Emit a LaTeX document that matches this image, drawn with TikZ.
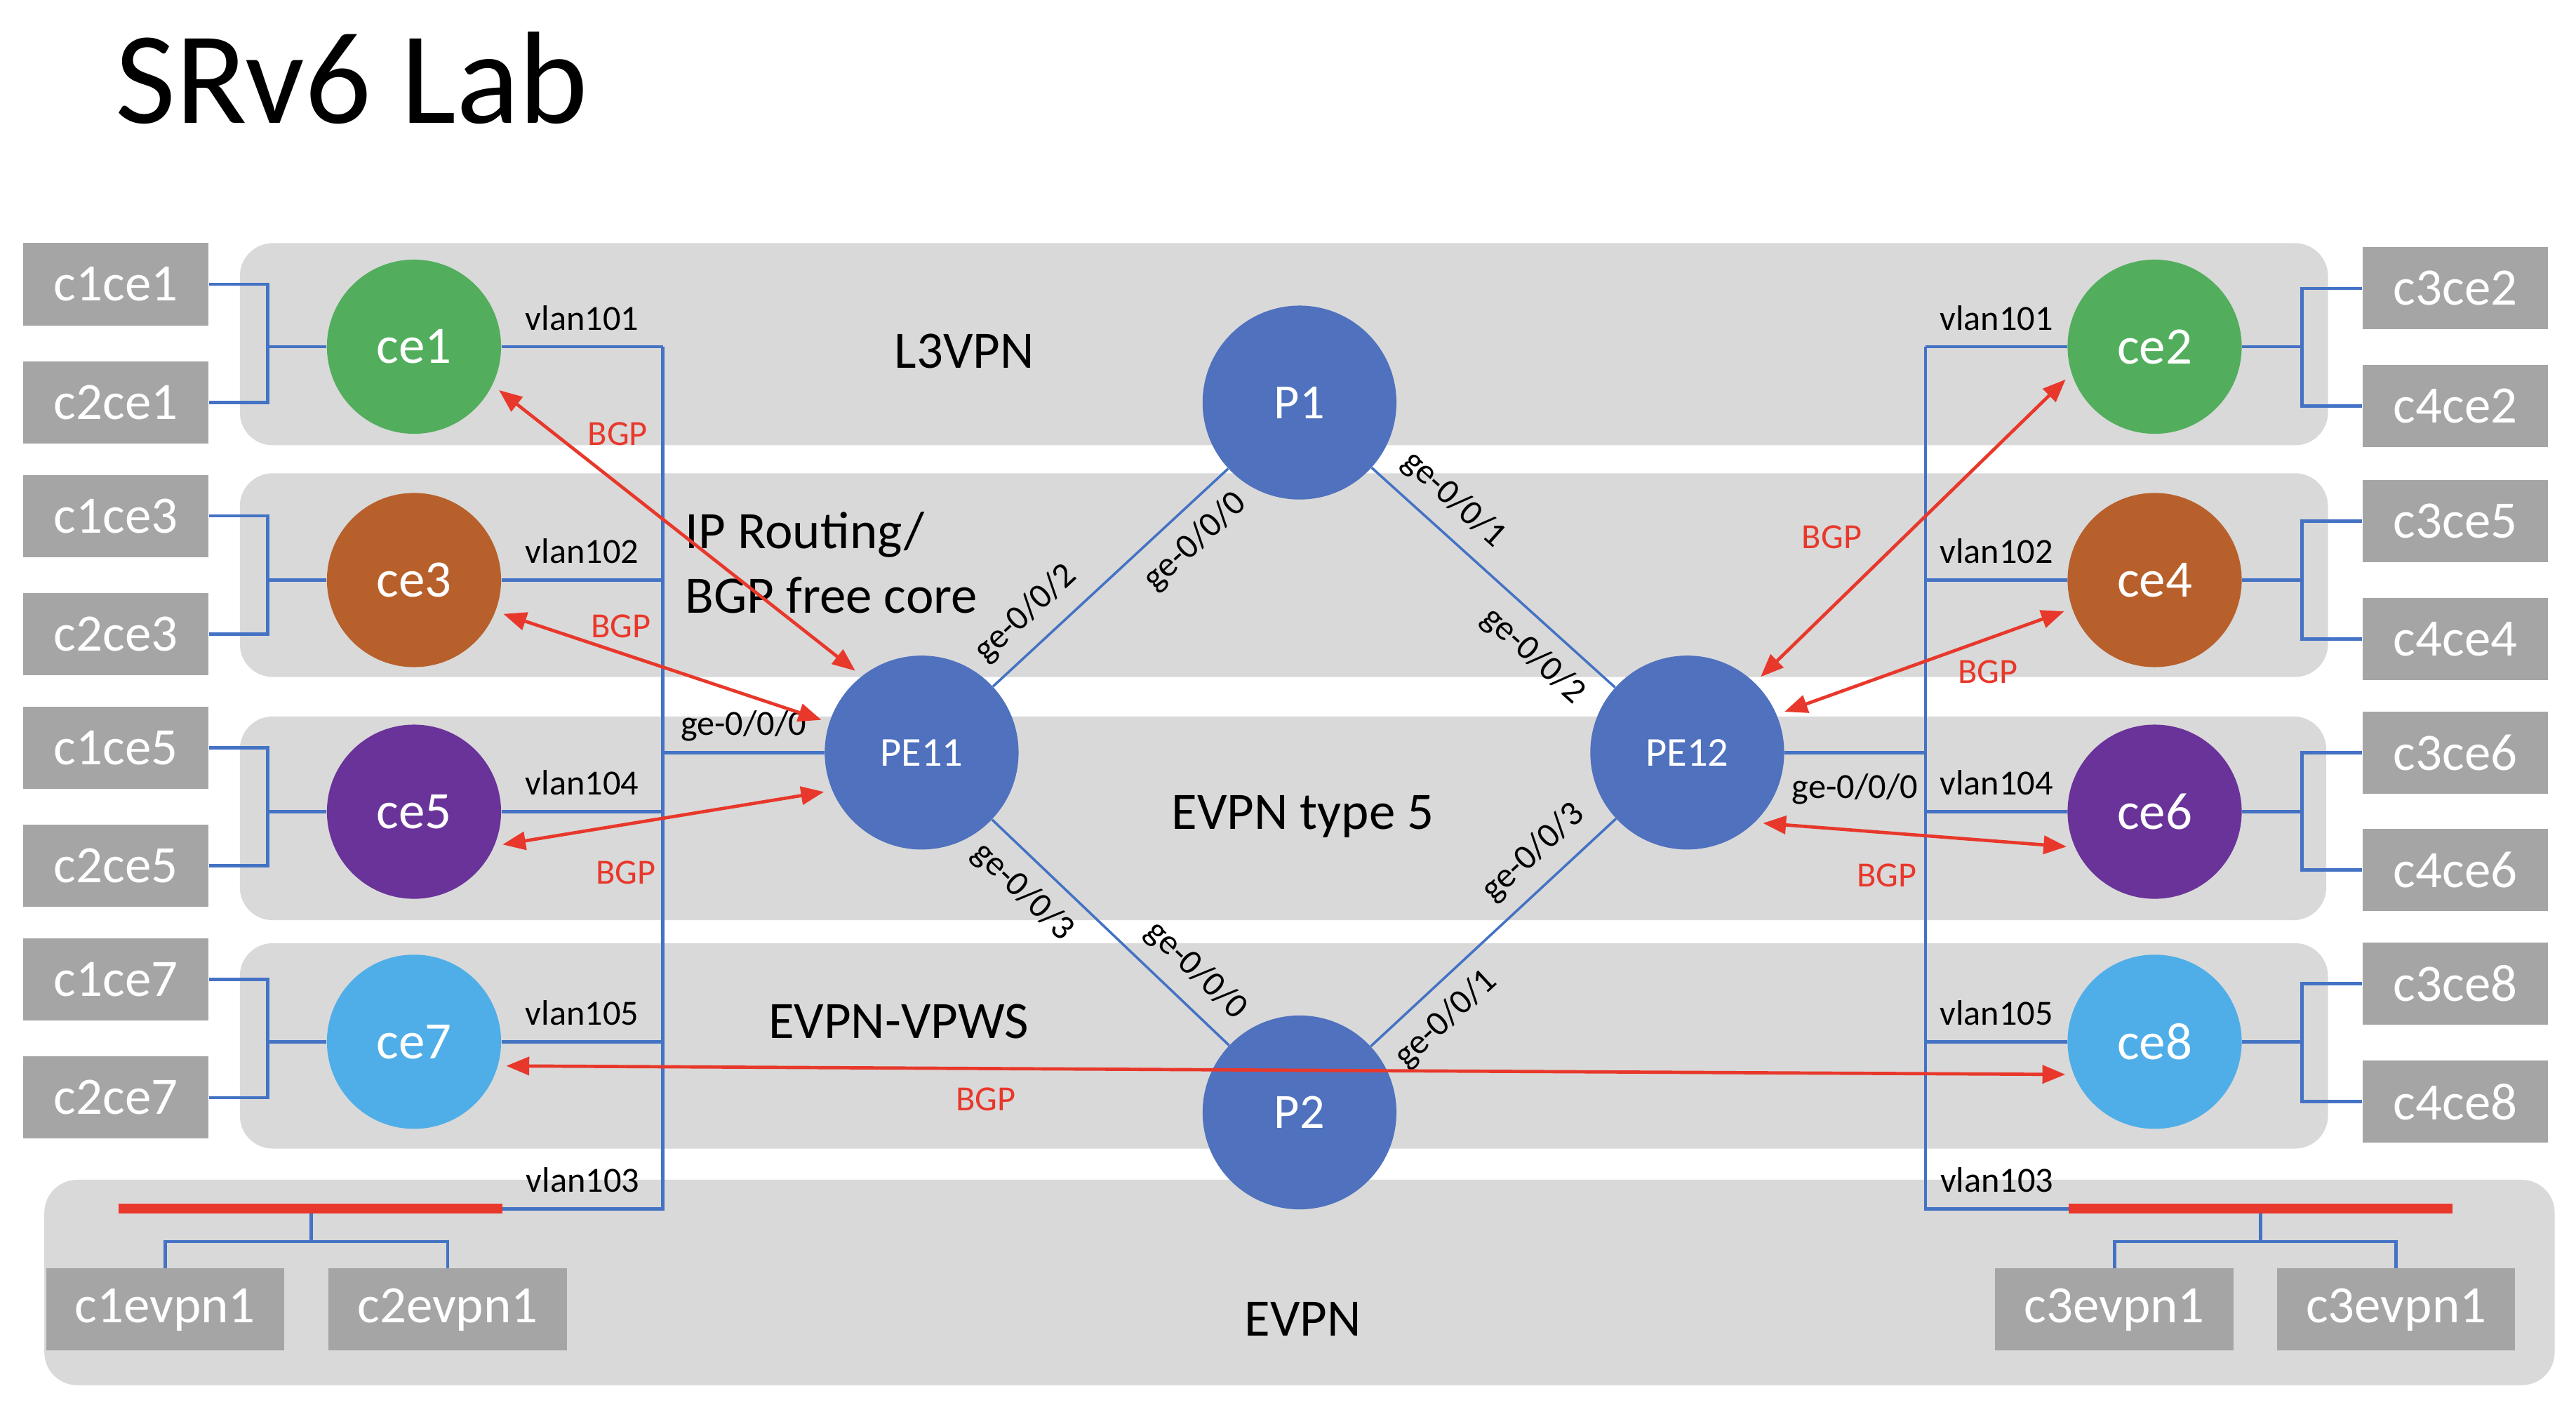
\documentclass[tikz,border=0pt]{standalone}
\usepackage{fontspec}
\setmainfont{Carlito}
\usetikzlibrary{arrows.meta,calc}

\definecolor{bandgray}{HTML}{D9D9D9}
\definecolor{boxgray}{HTML}{A5A5A5}
\definecolor{linkblue}{HTML}{4472C4}
\definecolor{coreblue}{HTML}{4F71BE}
\definecolor{cegreen}{HTML}{52AE5D}
\definecolor{ceorange}{HTML}{B8602B}
\definecolor{cepurple}{HTML}{6A3399}
\definecolor{celight}{HTML}{4FAEE8}
\definecolor{bgpred}{HTML}{E8382B}

\tikzset{
  band/.style={fill=bandgray, rounded corners=20pt},
  client/.style={fill=boxgray, text=white, minimum width=113pt, minimum height=50pt, inner sep=0pt, font=\fontsize{32pt}{38pt}\selectfont},
  evpnclient/.style={client, minimum width=145pt},
  cenode/.style={circle, fill=#1, text=white, minimum size=106pt, inner sep=0pt, font=\fontsize{32pt}{38pt}\selectfont},
  router/.style={circle, fill=coreblue, text=white, minimum size=118pt, inner sep=0pt, font=\fontsize{30pt}{36pt}\selectfont},
  pefont/.style={font=\fontsize{25pt}{30pt}\selectfont},
  link/.style={draw=linkblue, line width=2pt},
  corelink/.style={draw=linkblue, line width=1.5pt},
  bus/.style={draw=bgpred, line width=6pt},
  bgp/.style={draw=bgpred, line width=2pt, {Triangle[length=14pt,width=11pt]}-{Triangle[length=14pt,width=11pt]}, shorten >=5pt, shorten <=5pt},
  small/.style={font=\fontsize{21.5pt}{26pt}\selectfont, inner sep=2pt},
  bgplabel/.style={small, text=bgpred},
  bandlabel/.style={font=\fontsize{32pt}{39pt}\selectfont, inner sep=0pt},
}

\begin{document}
\begin{tikzpicture}[x=1pt, y=-1pt]
\useasboundingbox (0,0) rectangle (1568,858);

% Title
\node[anchor=base west, inner sep=0pt, font=\fontsize{80pt}{96pt}\selectfont] (title) at (70,75) {SRv6 Lab};

% Grey bands, one for each service
\fill[band] (146,148) rectangle (1417,271);
\fill[band] (146,288) rectangle (1417,412);
\fill[band] (146,436) rectangle (1416,560);
\fill[band] (146,574) rectangle (1417,699);
\fill[band] (27,718) rectangle (1555,843);

% Names of the bands
\node[bandlabel, anchor=base] (l3vpn) at (587,224) {L3VPN};
\node[bandlabel, anchor=base west, align=left] (ipcore) at (417,373) {IP Routing/\\BGP free core};
\node[bandlabel, anchor=base] (evpn5) at (793,504.5) {EVPN type 5};
\node[bandlabel, anchor=base] (vpws) at (547,632) {EVPN-VPWS};
\node[bandlabel, anchor=base] (evpn) at (793,813) {EVPN};

% Core routers
\node[router] (P1) at (791,245) {P1};
\node[router, pefont] (PE11) at (561,458) {PE11};
\node[router, pefont] (PE12) at (1027,458) {PE12};
\node[router] (P2) at (791,677) {P2};

% CE routers
\node[cenode=cegreen] (ce1) at (252,211) {ce1};
\node[cenode=ceorange] (ce3) at (252,353) {ce3};
\node[cenode=cepurple] (ce5) at (252,494) {ce5};
\node[cenode=celight] (ce7) at (252,634) {ce7};
\node[cenode=cegreen] (ce2) at (1311.5,211) {ce2};
\node[cenode=ceorange] (ce4) at (1311.5,353) {ce4};
\node[cenode=cepurple] (ce6) at (1311.5,494) {ce6};
\node[cenode=celight] (ce8) at (1311.5,634) {ce8};

% Clients on the left
\node[client] (c1ce1) at (70.5,173) {c1ce1};
\node[client] (c2ce1) at (70.5,245) {c2ce1};
\node[client] (c1ce3) at (70.5,314) {c1ce3};
\node[client] (c2ce3) at (70.5,386) {c2ce3};
\node[client] (c1ce5) at (70.5,455) {c1ce5};
\node[client] (c2ce5) at (70.5,527) {c2ce5};
\node[client] (c1ce7) at (70.5,596) {c1ce7};
\node[client] (c2ce7) at (70.5,668) {c2ce7};

% Clients on the right
\node[client] (c3ce2) at (1494.5,175.5) {c3ce2};
\node[client] (c4ce2) at (1494.5,247) {c4ce2};
\node[client] (c3ce5) at (1494.5,317) {c3ce5};
\node[client] (c4ce4) at (1494.5,389) {c4ce4};
\node[client] (c3ce6) at (1494.5,458) {c3ce6};
\node[client] (c4ce6) at (1494.5,529.5) {c4ce6};
\node[client] (c3ce8) at (1494.5,598.5) {c3ce8};
\node[client] (c4ce8) at (1494.5,670.5) {c4ce8};

% EVPN clients
\node[evpnclient] (c1evpn1) at (100.5,797) {c1evpn1};
\node[evpnclient] (c2evpn1) at (272.5,797) {c2evpn1};
\node[evpnclient] (c3evpn1a) at (1287,797) {c3evpn1};
\node[evpnclient] (c3evpn1b) at (1458.5,797) {c3evpn1};

% Clients to their CE
\foreach \ce/\ca/\cb in {ce1/c1ce1/c2ce1, ce3/c1ce3/c2ce3, ce5/c1ce5/c2ce5, ce7/c1ce7/c2ce7} {
  \coordinate (fork) at ($(\ca.east)!0.5!(\ce.west)$);
  \draw[link] (\ca.east) -| (fork |- \cb.east) -- (\cb.east);
  \draw[link] (\ce.west) -- (fork |- \ce.west);
}
\foreach \ce/\ca/\cb in {ce2/c3ce2/c4ce2, ce4/c3ce5/c4ce4, ce6/c3ce6/c4ce6, ce8/c3ce8/c4ce8} {
  \coordinate (fork) at ($(\ca.west)!0.5!(\ce.east)$);
  \draw[link] (\ca.west) -| (fork |- \cb.west) -- (\cb.west);
  \draw[link] (\ce.east) -- (fork |- \ce.east);
}

% Ends of the EVPN bus and the two trunks
\coordinate (lbarW) at (72,735.6);
\coordinate (lbarE) at (306,735.6);
\coordinate (rbarW) at (1259,735.6);
\coordinate (rbarE) at (1493,735.6);
\coordinate (ltrunk) at (403.5,211);
\coordinate (rtrunk) at (1172,211);

% Left trunk with its vlans
\draw[link] (ce1.east) -- (ltrunk) node[midway, small, above=7pt] {vlan101};
\draw[link] (ltrunk) -- (ltrunk |- lbarE) -- (lbarE) node[midway, small, above=7pt] {vlan103};
\draw[link] (ce3.east) -- (ltrunk |- ce3.east) node[midway, small, above=7pt] {vlan102};
\draw[link] (ce5.east) -- (ltrunk |- ce5.east) node[midway, small, above=7pt] {vlan104};
\draw[link] (ce7.east) -- (ltrunk |- ce7.east) node[midway, small, above=7pt] {vlan105};
\draw[link] (ltrunk |- PE11.west) -- (PE11.west) node[midway, small, above=4pt] {ge-0/0/0};

% Right trunk with its vlans
\draw[link] (rtrunk) -- (ce2.west) node[midway, small, above=7pt] {vlan101};
\draw[link] (rtrunk) -- (rtrunk |- rbarW) -- (rbarW) node[midway, small, above=7pt] {vlan103};
\draw[link] (rtrunk |- ce4.west) -- (ce4.west) node[midway, small, above=7pt] {vlan102};
\draw[link] (rtrunk |- ce6.west) -- (ce6.west) node[midway, small, above=7pt] {vlan104};
\draw[link] (rtrunk |- ce8.west) -- (ce8.west) node[midway, small, above=7pt] {vlan105};
\draw[link] (PE12.east) -- (rtrunk |- PE12.east) node[midway, small, below=10pt] {ge-0/0/0};

% EVPN clients to the bus
\coordinate (lstem) at (189.5,735.6);
\coordinate (rstem) at (1376,735.6);
\draw[link] (lstem) -- ++(0,20) coordinate (lsplit);
\draw[link] (c1evpn1.north) |- (lsplit) -| (c2evpn1.north);
\draw[link] (rstem) -- ++(0,20) coordinate (rsplit);
\draw[link] (c3evpn1a.north) |- (rsplit) -| (c3evpn1b.north);
\draw[bus] (lbarW) -- (lbarE);
\draw[bus] (rbarW) -- (rbarE);

% Core links and their interfaces
\draw[corelink] (PE11) -- (P1) node[pos=0.23, sloped, above=7pt, small] {ge-0/0/2} node[pos=0.77, sloped, below=7pt, small] {ge-0/0/0};
\draw[corelink] (P1) -- (PE12) node[pos=0.25, sloped, above=7pt, small] {ge-0/0/1} node[pos=0.75, sloped, below=7pt, small] {ge-0/0/2};
\draw[corelink] (PE11) -- (P2) node[pos=0.22, sloped, below=7pt, small] {ge-0/0/3} node[pos=0.77, sloped, above=7pt, small] {ge-0/0/0};
\draw[corelink] (P2) -- (PE12) node[pos=0.22, sloped, below=7pt, small] {ge-0/0/1} node[pos=0.75, sloped, above=7pt, small] {ge-0/0/3};

% BGP sessions
\draw[bgp] (ce1.-26) -- (PE11.128);
\draw[bgp] (ce3.-21) -- (PE11.162);
\draw[bgp] (ce5.-23) -- (PE11.203);
\draw[bgp] (ce7.-16) -- (ce8.202);
\draw[bgp] (ce2.198) -- (PE12.46);
\draw[bgp] (ce4.199) -- (PE12.23);
\draw[bgp] (ce6.204) -- (PE12.-46);
\node[bgplabel] (bgp1) at (376,264) {BGP};
\node[bgplabel] (bgp3) at (378,381) {BGP};
\node[bgplabel] (bgp5) at (381,531) {BGP};
\node[bgplabel] (bgp7) at (600,669) {BGP};
\node[bgplabel] (bgp2) at (1115,327) {BGP};
\node[bgplabel] (bgp4) at (1210,409) {BGP};
\node[bgplabel] (bgp6) at (1148.5,532.6) {BGP};

\end{tikzpicture}
\end{document}
